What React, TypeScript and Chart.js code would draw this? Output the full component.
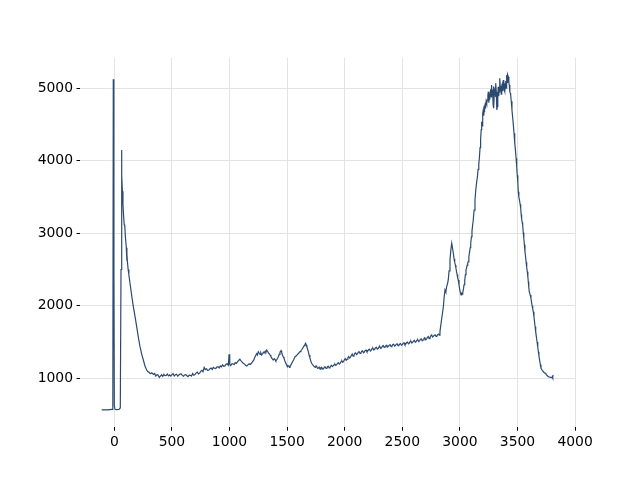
import React, { useEffect, useRef } from "react";
import { Chart, registerables } from "chart.js";

Chart.register(...registerables);

// Raman-like spectrum: shift (x) and intensity (y)
const shift: number[] = [
  -110, -60, -20, -13, -9, -4, 0, 6, 20, 40, 52, 58, 62, 66, 70, 75, 80, 86, 88, 92, 96, 104, 108, 110, 114,
  120, 126, 136, 150, 165, 180, 194, 208, 223, 238, 252, 266, 281, 290, 300, 312, 325,
  340, 350, 360, 370, 380, 390, 400, 410, 420, 430, 440, 450, 460, 470, 480, 490, 500, 510, 520, 530, 540, 550,
  560, 570, 580, 590, 600, 610, 620, 630, 640, 650, 660, 670, 680, 690, 700, 710, 720, 730, 740, 750, 760,
  770, 780, 790, 800, 810, 820, 830, 840, 850, 860, 870, 880, 890, 900, 910, 920, 930, 940, 950, 960, 970, 980,
  990, 996, 1002, 1010, 1020, 1030, 1040, 1050, 1060, 1070, 1080, 1090,
  1100, 1110, 1120, 1130, 1140, 1150, 1160, 1170, 1180, 1190, 1200, 1210, 1222, 1235, 1242, 1250, 1258, 1265,
  1272, 1279, 1287, 1295, 1302, 1310, 1316, 1323, 1330, 1338, 1345, 1352, 1359, 1366,
  1373, 1380, 1388, 1395, 1402, 1409, 1417, 1425, 1432, 1438, 1443, 1447, 1453, 1460, 1466, 1473, 1480, 1488,
  1495, 1502, 1508, 1515, 1520, 1525, 1535, 1545, 1557, 1569, 1580, 1590, 1600, 1612, 1620, 1630, 1640, 1648,
  1655, 1661, 1667, 1672, 1678, 1684, 1691, 1698, 1705, 1713, 1721, 1730, 1737, 1745, 1751, 1757, 1764, 1770, 1778,
  1786, 1793, 1800, 1808, 1815, 1823, 1830, 1838, 1845, 1852, 1858, 1865, 1872, 1879, 1886, 1893, 1900, 1908, 1915,
  1923, 1930, 1938, 1945, 1953, 1960, 1968, 1975, 1983, 1990, 1998, 2005, 2013, 2020, 2028, 2035,
  2043, 2050, 2058, 2065, 2073, 2080, 2088, 2095, 2103, 2110, 2118, 2125, 2133, 2140, 2148, 2155, 2163, 2170,
  2178, 2185, 2193, 2200, 2208, 2215, 2223, 2230, 2238, 2245, 2253, 2260, 2268, 2275, 2283, 2290, 2298, 2305,
  2313, 2320, 2328, 2335, 2343, 2350, 2358, 2365, 2373, 2380, 2388, 2395, 2403, 2410, 2418, 2425, 2433, 2440,
  2448, 2455, 2463, 2470, 2478, 2485, 2493, 2500, 2508, 2515, 2523, 2530, 2538, 2545, 2553, 2560, 2568, 2575,
  2583, 2590, 2598, 2605, 2613, 2620, 2628, 2635, 2643, 2650, 2658, 2665, 2673, 2680, 2688, 2695, 2703, 2710,
  2718, 2725, 2733, 2740, 2748, 2755, 2763, 2770, 2778, 2785, 2793, 2800, 2808, 2815, 2821, 2827,
  2840, 2856, 2864, 2871, 2878, 2885, 2892, 2899, 2906, 2914, 2921, 2929, 2936, 2943, 2949, 2955, 2961, 2966,
  2971, 2976, 2981, 2986, 2992, 2998, 3004, 3010, 3015, 3020, 3025, 3030, 3036, 3042, 3048, 3053,
  3058, 3063, 3068, 3073, 3078, 3084, 3089, 3094, 3100, 3105, 3110, 3116, 3123, 3131, 3138, 3146, 3152, 3158,
  3164, 3169, 3175, 3180, 3185, 3189, 3193, 3196, 3200, 3203, 3207, 3210, 3214, 3218, 3223, 3228, 3233, 3238,
  3243, 3247, 3251, 3254, 3258, 3261, 3265, 3268, 3272, 3275, 3280, 3285, 3288, 3290, 3293, 3296, 3300, 3305,
  3309, 3313, 3316, 3319, 3322, 3325, 3329, 3333, 3337, 3340, 3344, 3348, 3352, 3355, 3359, 3363, 3366, 3370,
  3374, 3377, 3381, 3384, 3388, 3391, 3395, 3398, 3402, 3406, 3409, 3411, 3416, 3420, 3425, 3429, 3432, 3435,
  3438, 3441, 3446, 3452, 3458, 3464, 3470, 3476, 3482, 3488, 3493, 3498, 3503, 3507, 3512, 3518, 3523, 3528,
  3532, 3536, 3541, 3545, 3550, 3555, 3560, 3565, 3570, 3575, 3580, 3585, 3590, 3594, 3598, 3602, 3610, 3617,
  3622, 3627, 3632, 3637, 3643, 3648, 3653, 3658, 3664, 3670, 3676, 3681, 3686, 3692, 3698, 3704, 3709, 3714,
  3719, 3724, 3730, 3735, 3740, 3745, 3750, 3756, 3762, 3767, 3775, 3782, 3790, 3797, 3801, 3805, 3808, 3811,
];

const intensity: number[] = [
  563, 565, 570, 600, 5124, 2500, 620, 572, 568, 570, 590, 2500, 4149, 3800, 3580, 3400, 3250, 3120, 3100, 3120, 2950, 2800, 2620, 2720, 2600,
  2500, 2430, 2310, 2150, 1988, 1850, 1712, 1570, 1436, 1330, 1252, 1170, 1114, 1092, 1085, 1062, 1075,
  1052, 1066, 1030, 1050, 1044, 1012, 1030, 1048, 1025, 1054, 1036, 1040, 1058, 1032, 1046, 1030, 1050, 1062, 1032, 1048, 1055, 1030,
  1045, 1058, 1060, 1040, 1028, 1046, 1050, 1035, 1022, 1044, 1040, 1030, 1065, 1042, 1050, 1072, 1085, 1060, 1070, 1095, 1110,
  1090, 1150, 1120, 1130, 1108, 1110, 1132, 1140, 1122, 1150, 1138, 1135, 1155, 1160, 1142, 1170, 1158, 1185, 1165, 1170, 1192, 1200,
  1180, 1331, 1190, 1175, 1198, 1200, 1188, 1215, 1205, 1230, 1245, 1262,
  1240, 1222, 1207, 1195, 1180, 1170, 1185, 1200, 1190, 1207, 1230, 1250, 1298, 1340, 1322, 1367, 1345, 1330,
  1350, 1321, 1338, 1360, 1352, 1375, 1362, 1390, 1372, 1350, 1336, 1321, 1300, 1280,
  1265, 1252, 1270, 1260, 1240, 1252, 1275, 1300, 1330, 1360, 1372, 1381, 1352, 1320, 1298, 1276, 1240, 1210,
  1185, 1160, 1175, 1170, 1150, 1160, 1190, 1220, 1255, 1298, 1310, 1330, 1345, 1367, 1380, 1400, 1428, 1450,
  1470, 1483, 1455, 1430, 1400, 1367, 1320, 1280, 1240, 1207, 1190, 1170, 1158, 1150, 1172, 1160, 1138, 1140, 1155,
  1124, 1145, 1150, 1128, 1130, 1152, 1158, 1135, 1140, 1162, 1165, 1142, 1150, 1170, 1178, 1160, 1170, 1185, 1195,
  1178, 1188, 1205, 1215, 1196, 1205, 1228, 1240, 1220, 1232, 1256, 1270, 1248, 1262, 1284, 1300,
  1278, 1290, 1318, 1335, 1305, 1318, 1342, 1350, 1326, 1335, 1360, 1368, 1342, 1350, 1372, 1378, 1352, 1362,
  1385, 1390, 1366, 1375, 1396, 1400, 1376, 1385, 1410, 1415, 1390, 1400, 1422, 1428, 1402, 1410, 1432, 1438,
  1412, 1420, 1445, 1450, 1425, 1432, 1452, 1455, 1430, 1440, 1458, 1462, 1436, 1445, 1465, 1470, 1444, 1452,
  1470, 1475, 1450, 1458, 1472, 1478, 1455, 1462, 1485, 1490, 1462, 1470, 1495, 1500, 1474, 1482, 1505, 1510,
  1486, 1495, 1515, 1522, 1496, 1505, 1525, 1530, 1506, 1515, 1538, 1545, 1518, 1528, 1552, 1560, 1530, 1540,
  1565, 1575, 1548, 1560, 1588, 1598, 1570, 1580, 1595, 1600, 1578, 1585, 1602, 1610, 1596, 1643,
  1800, 1980, 2130, 2218, 2190, 2264, 2300, 2356, 2480, 2632, 2760, 2862, 2800, 2724, 2650, 2600, 2560, 2517,
  2470, 2430, 2380, 2356, 2290, 2230, 2180, 2149, 2170, 2160, 2190, 2218, 2290, 2350, 2430, 2494,
  2520, 2560, 2590, 2609, 2680, 2740, 2800, 2862, 2950, 3030, 3100, 3183, 3320, 3459, 3600, 3712, 3780, 3880,
  3950, 4034, 4180, 4300, 4430, 4539, 4480, 4600, 4650, 4701, 4620, 4680, 4740, 4770, 4720, 4820, 4790, 4839,
  4900, 4953, 4800, 4850, 4920, 4862, 4960, 4990, 4880, 5046, 4900, 4980, 4780, 5023, 4900, 4724, 4960, 4990,
  4880, 5069, 4950, 4850, 4700, 4746, 4900, 5020, 4890, 4950, 5060, 5138, 4990, 5030, 4920, 5000, 5060, 5090,
  4960, 5114, 5040, 4980, 5070, 4953, 5050, 5100, 5000, 5183, 5080, 5150, 5190, 5160, 5080, 5046, 4990, 4953,
  4930, 4908, 4820, 4700, 4600, 4494, 4380, 4250, 4150, 4034, 3920, 3800, 3700, 3574, 3500, 3450, 3400, 3345,
  3260, 3200, 3150, 3114, 3010, 2930, 2840, 2746, 2680, 2600, 2530, 2470, 2400, 2332, 2260, 2194, 2150, 2103,
  2050, 2000, 1960, 1919, 1850, 1780, 1710, 1643, 1570, 1500, 1430, 1367, 1310, 1250, 1190, 1138, 1125, 1110,
  1100, 1091, 1080, 1075, 1072, 1069, 1050, 1040, 1032, 1022, 1018, 1015, 1010, 1008, 1020, 1000, 1030, 1046,
];

const xTicks: number[] = [0, 500, 1000, 1500, 2000, 2500, 3000, 3500, 4000];
const yTicks: number[] = [1000, 2000, 3000, 4000, 5000];

export default function App() {
  const ref = useRef<HTMLCanvasElement | null>(null);

  useEffect(() => {
    if (!ref.current) return;
    const points = shift.map((x, i) => ({ x, y: intensity[i] }));
    const font = { family: "DejaVu Sans", size: 13.9 };
    const chart = new Chart(ref.current, {
      type: "line",
      data: {
        datasets: [
          {
            data: points,
            borderColor: "#2c4a6f",
            borderWidth: 1.2,
            pointRadius: 0,
            tension: 0,
            fill: false,
          },
        ],
      },
      options: {
        animation: false,
        responsive: false,
        maintainAspectRatio: false,
        layout: { padding: { left: 0, top: 57.6, right: 64, bottom: 0 } },
        plugins: { legend: { display: false }, tooltip: { enabled: false } },
        scales: {
          x: {
            type: "linear",
            min: -298,
            max: 4008,
            border: { display: false },
            grid: {
              color: "#e3e3e3",
              lineWidth: 1,
              drawTicks: true,
              tickLength: 3.5,
              tickColor: "#000",
              tickWidth: 1,
            },
            ticks: {
              color: "#000",
              font,
              padding: 3.5,
              maxRotation: 0,
              callback: (v: any) => String(v),
            },
            afterBuildTicks: (s: any) => {
              s.ticks = xTicks.map((v) => ({ value: v }));
            },
            afterFit: (s: any) => {
              s.height = 52.8;
            },
          },
          y: {
            type: "linear",
            min: 325,
            max: 5423,
            border: { display: false },
            grid: {
              color: "#e3e3e3",
              lineWidth: 1,
              drawTicks: true,
              tickLength: 3.5,
              tickColor: "#000",
              tickWidth: 1,
            },
            ticks: { color: "#000", font, padding: 3.5, callback: (v: any) => String(v) },
            afterBuildTicks: (s: any) => {
              s.ticks = yTicks.map((v) => ({ value: v }));
            },
            afterFit: (s: any) => {
              s.width = 80;
            },
          },
        },
      },
    });
    return () => chart.destroy();
  }, []);

  return (
    <div style={{ position: "fixed", left: 0, top: 0, width: 640, height: 480, background: "#fff" }}>
      <canvas ref={ref} width={640} height={480} style={{ display: "block" }} />
    </div>
  );
}
